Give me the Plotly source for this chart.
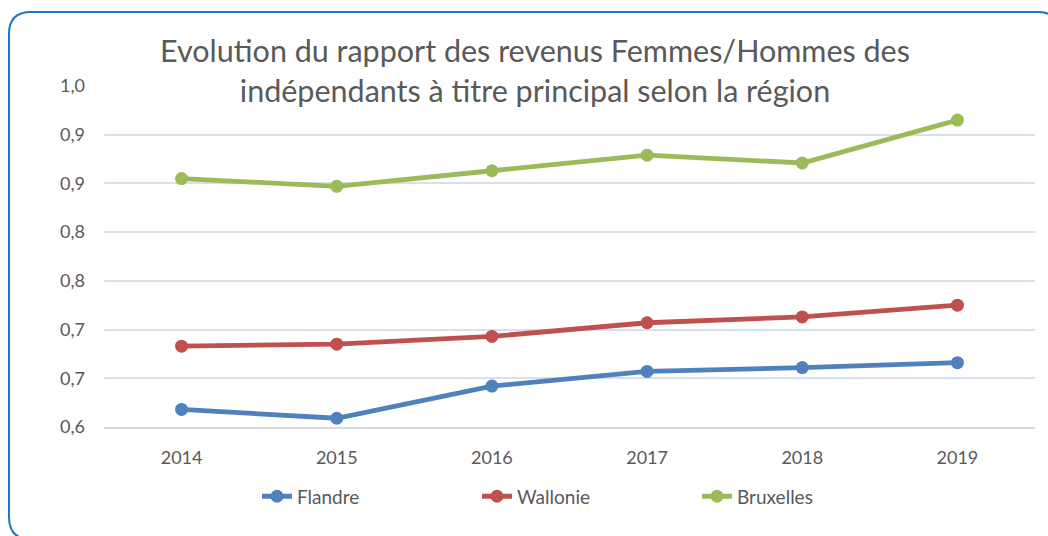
import plotly.graph_objects as go

years = ["2014", "2015", "2016", "2017", "2018", "2019"]
flandre = [0.618, 0.609, 0.642, 0.657, 0.661, 0.666]
wallonie = [0.683, 0.685, 0.693, 0.707, 0.713, 0.725]
bruxelles = [0.855, 0.847, 0.863, 0.879, 0.871, 0.915]

y_tickvals = [0.60, 0.65, 0.70, 0.75, 0.80, 0.85, 0.90, 0.95]
y_ticktext = ["0,6", "0,7", "0,7", "0,8", "0,8", "0,9", "0,9", "1,0"]

series = [
    ("Flandre", flandre, "#4F81BD"),
    ("Wallonie", wallonie, "#C0504D"),
    ("Bruxelles", bruxelles, "#9BBB59"),
]

FONT = "Lato"
GRAY = "#595959"

fig = go.Figure()
for name, vals, col in series:
    fig.add_trace(go.Scatter(
        x=years, y=vals, name=name, mode="lines+markers",
        line=dict(color=col, width=4.8),
        marker=dict(color=col, size=13),
    ))

W, H = 1048, 536
L, R, T, B = 104, 13, 86, 108.5
pw, ph = W - L - R, H - T - B


def px(x):
    return (x - L) / pw


def py(y):
    return (H - B - y) / ph


# rounded border (pixel coords converted to paper)
x0, y0, x1, y1, r = 9, 12, 1060, 540, 22
path = (
    f"M {px(x0)},{py(y1 - r)} L {px(x0)},{py(y0 + r)} "
    f"Q {px(x0)},{py(y0)} {px(x0 + r)},{py(y0)} "
    f"L {px(x1 - r)},{py(y0)} "
    f"Q {px(x1)},{py(y0)} {px(x1)},{py(y0 + r)} "
    f"L {px(x1)},{py(y1 - r)} "
    f"Q {px(x1)},{py(y1)} {px(x1 - r)},{py(y1)} "
    f"L {px(x0 + r)},{py(y1)} "
    f"Q {px(x0)},{py(y1)} {px(x0)},{py(y1 - r)} Z"
)

fig.update_layout(
    width=W, height=H,
    margin=dict(l=L, r=R, t=T, b=B),
    paper_bgcolor="white", plot_bgcolor="white",
    font=dict(family=FONT, color=GRAY, size=18),
    title=dict(
        text="Evolution du rapport des revenus Femmes/Hommes des<br>indépendants à titre principal selon la région",
        x=px(535), xanchor="center", xref="paper",
        y=1 - 62 / H, yanchor="top", yref="container",
        font=dict(family=FONT, size=30.5, color=GRAY),
    ),
    xaxis=dict(
        type="category", range=[-0.5, 5.5],
        showgrid=False, showline=True, linecolor="#D9D9D9", linewidth=1.5,
        ticks="", ticklabelstandoff=14,
        tickfont=dict(size=18, color=GRAY),
        fixedrange=True,
    ),
    yaxis=dict(
        range=[0.60, 0.95], tickvals=y_tickvals, ticktext=y_ticktext,
        showgrid=True, gridcolor="#D6E0EF", gridwidth=1.5,
        zeroline=False, showline=False, ticks="", ticklabelstandoff=18,
        tickfont=dict(size=18, color=GRAY),
        fixedrange=True,
    ),
    showlegend=True,
    legend=dict(
        orientation="h", x=px(257), xanchor="left",
        y=py(497), yanchor="middle",
        entrywidth=175, entrywidthmode="pixels",
        font=dict(size=19, color=GRAY),
        bgcolor="rgba(0,0,0,0)",
    ),
    shapes=[dict(type="path", xref="paper", yref="paper", path=path,
                 line=dict(color="#1F76C6", width=2), layer="above")],
)

fig.write_html("out.html", config={"displayModeBar": False},
               post_script="document.body.style.margin='0';")
